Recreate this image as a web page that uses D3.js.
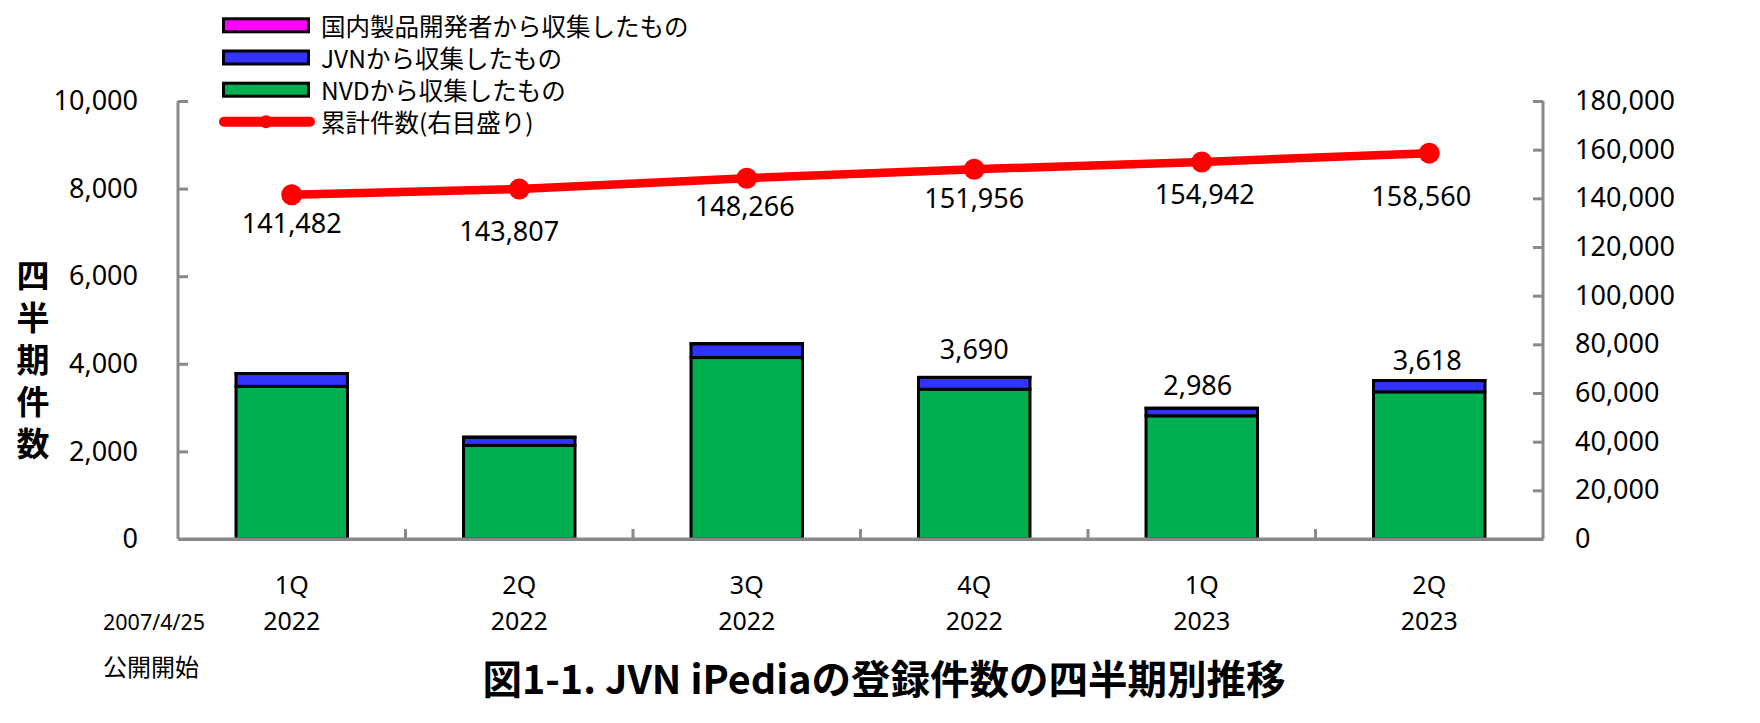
<!DOCTYPE html>
<html>
<head>
<meta charset="utf-8">
<script src="https://cdn.jsdelivr.net/npm/d3@7"></script>
<style>
  html, body { margin: 0; padding: 0; background: #fff; }
  svg { display: block; }
  .num { font-family: "Noto Sans", "Liberation Sans", sans-serif; }
  .jp { font-family: "Noto Sans CJK JP", "Noto Sans", sans-serif; }
</style>
</head>
<body>
<svg id="chart" width="1760" height="723"></svg>
<script>
// ---- data ----
const quarters = ["1Q", "2Q", "3Q", "4Q", "1Q", "2Q"];
const years = ["2022", "2022", "2022", "2022", "2023", "2023"];
const nvdCounts = [3485, 2138, 4143, 3419, 2812, 3360];
const jvnCounts = [293, 186, 315, 270, 173, 257];
const domesticCounts = [1, 1, 1, 1, 1, 1];
const cumulative = [141482, 143807, 148266, 151956, 154942, 158560];
const barLabelShown = [false, false, false, true, true, true];
const leftTicks = [0, 2000, 4000, 6000, 8000, 10000];
const rightTicks = [0, 20000, 40000, 60000, 80000, 100000, 120000, 140000, 160000, 180000];
const legendLabels = ["国内製品開発者から収集したもの", "JVNから収集したもの", "NVDから収集したもの", "累計件数(右目盛り)"];
const yTitle = "四半期件数";
const title = "図1-1. JVN iPediaの登録件数の四半期別推移";
const note = ["2007/4/25", "公開開始"];

// ---- layout (not data) ----
const lineLabelDx = [0, -10, -2, 0, 3, -8];
const lineLabelDy = [28, 41, 27, 28, 32, 42];
const barLabelDx = [0, 0, 0, 0, -4, -2];
const barLabelDy = [0, 0, 0, -29, -24, -21];

const colors = { domestic: "#FF00FF", jvn: "#3333FF", nvd: "#00B050", line: "#FF0000", axis: "#898989" };
const L = 178, R = 1543, T = 101, B = 539;

const svg = d3.select("#chart");
const cats = quarters.map((q, i) => i);

const x = d3.scaleBand().domain(cats).range([L, R]).paddingInner(0.51).paddingOuter(0.255);
const yL = d3.scaleLinear().domain([0, 10000]).range([B, T]);
const yR = d3.scaleLinear().domain([0, 180000]).range([B, T]);
const fmt = d3.format(",");

// stacked data
const rows = cats.map(i => ({ i, nvd: nvdCounts[i], jvn: jvnCounts[i], domestic: domesticCounts[i] }));
const stack = d3.stack().keys(["nvd", "jvn", "domestic"])(rows);

// bars
svg.append("g").selectAll("g").data(stack).join("g")
  .attr("fill", d => colors[d.key])
  .selectAll("rect").data(d => d).join("rect")
  .attr("x", d => x(d.data.i))
  .attr("width", x.bandwidth())
  .attr("y", d => yL(d[1]))
  .attr("height", d => Math.max(0.05, yL(d[0]) - yL(d[1])))
  .attr("stroke", "#000")
  .attr("stroke-width", 3);

// axes
const axL = svg.append("g").attr("transform", `translate(${L},0)`)
  .call(d3.axisLeft(yL).tickValues(leftTicks).tickSizeInner(-10).tickSizeOuter(0).tickPadding(40).tickFormat(fmt));
const axR = svg.append("g").attr("transform", `translate(${R},0)`)
  .call(d3.axisRight(yR).tickValues(rightTicks).tickSizeInner(-10).tickSizeOuter(0).tickPadding(32).tickFormat(fmt));
const axB = svg.append("g").attr("transform", `translate(0,${B})`)
  .call(d3.axisBottom(x).tickSize(0).tickSizeOuter(0).tickFormat(() => ""));
[axL, axR, axB].forEach(a => {
  a.select(".domain").attr("stroke", colors.axis).attr("stroke-width", 3);
  a.selectAll(".tick line").attr("stroke", colors.axis).attr("stroke-width", 3);
  a.selectAll(".tick text").attr("class", "num").attr("font-size", 27).attr("fill", "#000");
});
axL.select(".domain").attr("d", `M0,${T}V${B}`);
axR.select(".domain").attr("d", `M0,${T}V${B}`);
// category boundary ticks
svg.append("g").selectAll("line").data(cats.slice(0, -1)).join("line")
  .attr("x1", i => x(i) + x.bandwidth() / 2 + x.step() / 2)
  .attr("x2", i => x(i) + x.bandwidth() / 2 + x.step() / 2)
  .attr("y1", B).attr("y2", B - 10)
  .attr("stroke", colors.axis).attr("stroke-width", 3);
svg.append("line").attr("x1", L).attr("x2", R).attr("y1", B).attr("y2", B)
  .attr("stroke", colors.axis).attr("stroke-width", 3);

// category labels
const catText = svg.append("g").selectAll("text").data(cats).join("text")
  .attr("class", "num").attr("font-size", 25).attr("text-anchor", "middle").attr("fill", "#000");
catText.append("tspan").attr("x", i => x(i) + x.bandwidth() / 2).attr("y", 594).text(i => quarters[i]);
catText.append("tspan").attr("x", i => x(i) + x.bandwidth() / 2).attr("y", 630).text(i => years[i]);

// bar total labels
svg.append("g").selectAll("text").data(cats.filter(i => barLabelShown[i])).join("text")
  .attr("class", "num").attr("font-size", 27).attr("text-anchor", "middle")
  .attr("dominant-baseline", "central")
  .attr("x", i => x(i) + x.bandwidth() / 2 + barLabelDx[i])
  .attr("y", i => yL(nvdCounts[i] + jvnCounts[i] + domesticCounts[i]) + barLabelDy[i])
  .text(i => fmt(nvdCounts[i] + jvnCounts[i] + domesticCounts[i]));

// cumulative line
const cx = i => x(i) + x.bandwidth() / 2;
svg.append("path").datum(cats)
  .attr("fill", "none").attr("stroke", colors.line).attr("stroke-width", 8.5)
  .attr("d", d3.line().x(cx).y(i => yR(cumulative[i])));
svg.append("g").selectAll("circle").data(cats).join("circle")
  .attr("cx", cx).attr("cy", i => yR(cumulative[i])).attr("r", 10.5).attr("fill", colors.line);
svg.append("g").selectAll("text").data(cats).join("text")
  .attr("class", "num").attr("font-size", 27).attr("text-anchor", "middle")
  .attr("dominant-baseline", "central")
  .attr("x", i => cx(i) + lineLabelDx[i])
  .attr("y", i => yR(cumulative[i]) + lineLabelDy[i])
  .text(i => fmt(cumulative[i]));

// legend
const legendY = [25.3, 57.5, 89.7, 121.7];
const legendFill = [colors.domestic, colors.jvn, colors.nvd];
const lg = svg.append("g");
legendFill.forEach((c, k) => {
  lg.append("rect").attr("x", 223.5).attr("y", legendY[k] - 6.5).attr("width", 85).attr("height", 13)
    .attr("fill", c).attr("stroke", "#000").attr("stroke-width", 3);
});
lg.append("line").attr("x1", 224).attr("x2", 310).attr("y1", legendY[3]).attr("y2", legendY[3])
  .attr("stroke", colors.line).attr("stroke-width", 10).attr("stroke-linecap", "round");
lg.append("circle").attr("cx", 266).attr("cy", legendY[3]).attr("r", 6.5).attr("fill", colors.line);
lg.selectAll("text").data(legendLabels).join("text")
  .attr("class", "jp").attr("font-size", 24.5).attr("x", 321)
  .attr("y", (d, k) => legendY[k]).attr("dominant-baseline", "central").text(d => d);

// y title (vertical)
svg.append("text").attr("class", "jp").attr("font-size", 33).attr("font-weight", "bold")
  .attr("x", 33).attr("y", 258.5)
  .style("writing-mode", "vertical-rl").style("text-orientation", "upright")
  .style("letter-spacing", "9px")
  .text(yTitle);

// note
svg.append("text").attr("class", "num").attr("font-size", 21.5).attr("x", 103).attr("y", 621)
  .attr("dominant-baseline", "central").text(note[0]);
svg.append("text").attr("class", "jp").attr("font-size", 24).attr("x", 103).attr("y", 665)
  .attr("dominant-baseline", "central").text(note[1]);

// title
svg.append("text").attr("class", "jp").attr("font-size", 39.5).attr("font-weight", "bold")
  .attr("x", 884).attr("y", 676).attr("text-anchor", "middle").attr("dominant-baseline", "central")
  .text(title);
</script>
</body>
</html>
